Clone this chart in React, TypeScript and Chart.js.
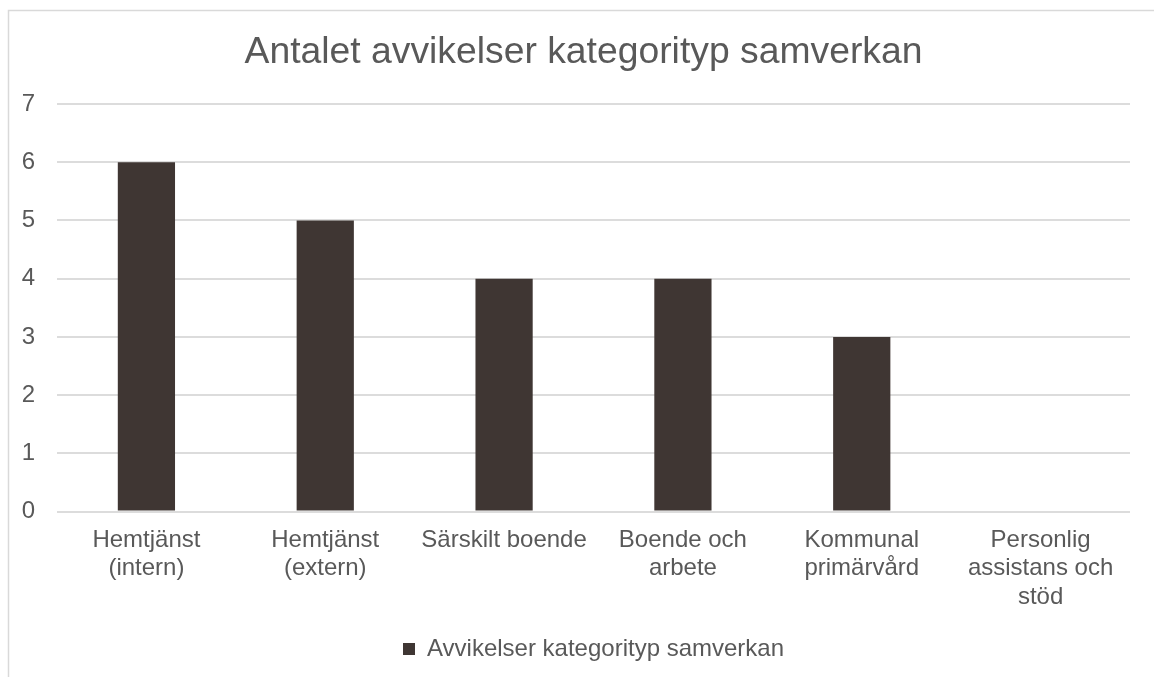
import React, { useEffect, useRef } from "react";
import { Chart, registerables } from "chart.js";

Chart.register(...registerables);

const categories: (string | string[])[] = [
  ["Hemtjänst", "(intern)"],
  ["Hemtjänst", "(extern)"],
  "Särskilt boende",
  ["Boende och", "arbete"],
  ["Kommunal", "primärvård"],
  ["Personlig", "assistans och", "stöd"],
];
const values: number[] = [6, 5, 4, 4, 3, 0];
const seriesName = "Avvikelser kategorityp samverkan";
const chartTitle = "Antalet avvikelser kategorityp samverkan";
const yTicks: number[] = [0, 1, 2, 3, 4, 5, 6, 7];

const FONT = "'Liberation Sans', Arial, sans-serif";
const TEXT = "#595959";
const BAR = "#3f3633";
const GRID = "#dcdcdc";

const borderPlugin = {
  id: "outerBorder",
  beforeDraw(chart: any) {
    const ctx = chart.ctx;
    ctx.save();
    ctx.fillStyle = "#ffffff";
    ctx.fillRect(0, 0, chart.width, chart.height);
    ctx.strokeStyle = "#d9d9d9";
    ctx.lineWidth = 1.5;
    ctx.strokeRect(8.5, 10.5, chart.width + 20, chart.height + 20);
    ctx.restore();
  },
  afterLayout(chart: any) {
    // the reference title sits slightly right of the canvas centre
    if (chart.titleBlock) {
      chart.titleBlock.left = 37;
    }
  },
};

export default function App() {
  const ref = useRef<HTMLCanvasElement | null>(null);
  useEffect(() => {
    if (!ref.current) return;
    const chart = new Chart(ref.current, {
      type: "bar",
      data: {
        labels: categories,
        datasets: [
          {
            label: seriesName,
            data: values,
            backgroundColor: BAR,
            borderWidth: 0,
            categoryPercentage: 1,
            barPercentage: 0.32,
          },
        ],
      },
      options: {
        responsive: false,
        animation: false,
        layout: { padding: { left: 21, right: 24, top: 0, bottom: 6 } },
        plugins: {
          title: {
            display: true,
            text: chartTitle,
            color: TEXT,
            font: { family: FONT, size: 37.3, weight: "normal", lineHeight: 1.2 },
            padding: { top: 30, bottom: 29.2 },
          },
          legend: {
            display: true,
            position: "bottom",
            fullSize: false,
            labels: {
              color: TEXT,
              font: { family: FONT, size: 24, lineHeight: 1.2 },
              boxWidth: 12,
              boxHeight: 12,
              padding: 10,
            },
          },
          tooltip: { enabled: false },
        },
        scales: {
          x: {
            grid: { display: false, drawTicks: false },
            border: { display: false },
            ticks: {
              color: TEXT,
              font: { family: FONT, size: 24, lineHeight: 1.2 },
              maxRotation: 0,
              minRotation: 0,
              autoSkip: false,
              padding: 14,
            },
            afterFit(scale: any) {
              scale.paddingLeft = 0;
              scale.paddingRight = 0;
              scale.height += 1;
            },
          },
          y: {
            min: 0,
            max: 7,
            afterBuildTicks(scale: any) {
              scale.ticks = yTicks.map((v) => ({ value: v }));
            },
            afterFit(scale: any) {
              scale.width = 36;
            },
            grid: { color: GRID, lineWidth: 2, drawTicks: false },
            border: { display: false },
            ticks: {
              color: TEXT,
              font: { family: FONT, size: 24 },
              padding: 22,
              stepSize: 1,
            },
          },
        },
      },
      plugins: [borderPlugin],
    });
    return () => chart.destroy();
  }, []);
  return (
    <div style={{ position: "absolute", left: 0, top: 0, width: 1154, height: 677 }}>
      <canvas ref={ref} width={1154} height={677} style={{ display: "block" }} />
    </div>
  );
}
